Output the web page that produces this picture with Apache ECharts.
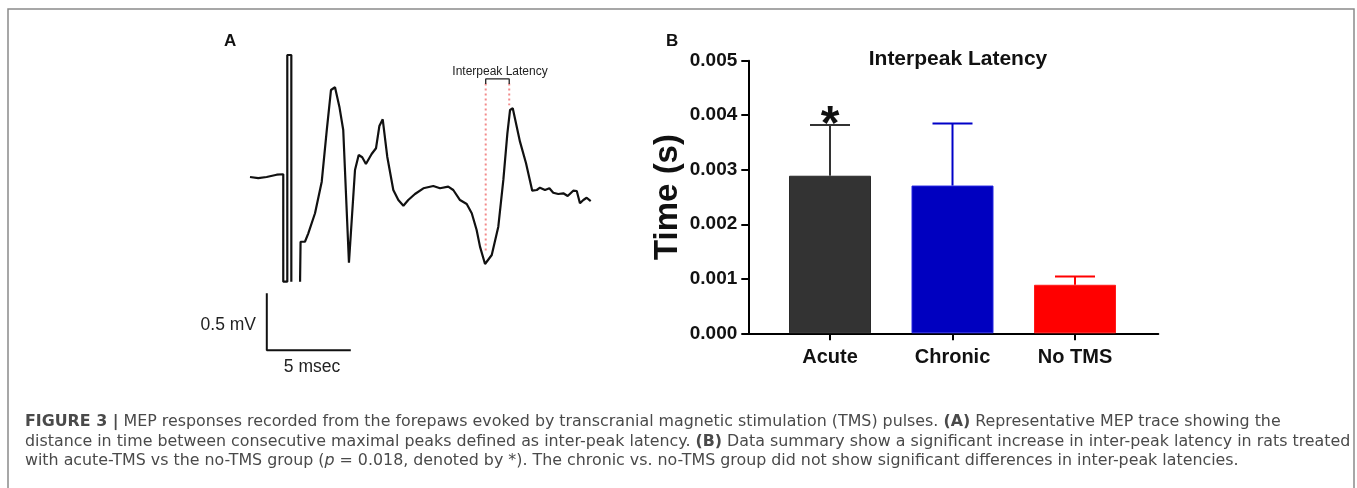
<!DOCTYPE html>
<html><head><meta charset="utf-8">
<script src="https://cdn.jsdelivr.net/npm/echarts@6/dist/echarts.min.js"></script>
<style>html,body{margin:0;padding:0;background:#fff}#c{width:1357px;height:488px}</style>
</head><body><div id="c"></div>
<script>
// ---- Panel A: representative MEP trace (time in ms, amplitude in mV) ----
const traceTime = [0,0.49,0.99,1.59,1.98,1.98,2.22,2.22,2.46,2.46,2.7,2.98,3.01,3.27,3.47,3.87,4.27,4.57,4.82,5.06,5.32,5.55,5.89,6.25,6.47,6.68,6.90,7.24,7.50,7.70,7.90,8.17,8.53,8.83,9.13,9.42,9.82,10.32,10.91,11.31,11.80,12.10,12.50,12.90,13.20,13.49,13.69,13.99,14.39,14.78,15.08,15.32,15.48,15.64,16.07,16.43,16.80,17.07,17.26,17.56,17.82,18.05,18.35,18.65,18.91,19.24,19.45,19.64,19.84,20.04,20.28];
const traceVolt = [0,-0.01,0,0.02,0.024,-0.918,-0.918,1.07,1.07,-0.918,null,-0.918,-0.568,-0.568,-0.494,-0.318,-0.041,0.412,0.763,0.787,0.617,0.412,-0.752,0.061,0.193,0.173,0.114,0.202,0.252,0.447,0.506,0.178,-0.114,-0.202,-0.252,-0.202,-0.149,-0.099,-0.079,-0.099,-0.085,-0.114,-0.202,-0.237,-0.318,-0.465,-0.611,-0.763,-0.684,-0.436,-0.026,0.383,0.588,0.603,0.310,0.120,-0.120,-0.114,-0.094,-0.114,-0.099,-0.138,-0.149,-0.143,-0.167,-0.120,-0.123,-0.231,-0.202,-0.182,-0.211];
const latencyTimes = [14.03, 15.43];          // trough and peak marked by dotted lines
const latencyDotTop = 0.82;
const latencyDotBottom = [-0.67, 0.63];
const bracketVolt = [0.816, 0.86];
const scaleBarTime = [1.0, 1.0, 6.0];          // 5 msec
const scaleBarVolt = [-1.02, -1.52, -1.52];    // 0.5 mV

// ---- Panel B: interpeak latency summary ----
const groups = ['Acute', 'Chronic', 'No TMS'];
const meanLatency = [0.00289, 0.00271, 0.00089];
const semLatency = [0.00093, 0.00114, 0.00015];
const significance = ['*', '', ''];

const barColors = ['#333333', '#0000c0', '#ff0000'];
const barBorders = ['#2a2a2a', '#2424e0', '#ff1a1a'];
const errColors = ['#333333', '#0000c8', '#ff0000'];

const FONT = '"Liberation Sans", Arial, Helvetica, sans-serif';
const CAPFONT = '"DejaVu Sans", "Liberation Sans", sans-serif';
const chart = echarts.init(document.getElementById('c'), null, {renderer: 'canvas'});

const traceData = traceTime.map((t, i) => [t, traceVolt[i] === null ? '-' : traceVolt[i]]);
const dot1 = [[latencyTimes[0], latencyDotTop], [latencyTimes[0], latencyDotBottom[0]]];
const dot2 = [[latencyTimes[1], latencyDotTop], [latencyTimes[1], latencyDotBottom[1]]];
const bracket = [[latencyTimes[0], bracketVolt[0]], [latencyTimes[0], bracketVolt[1]], [latencyTimes[1], bracketVolt[1]], [latencyTimes[1], bracketVolt[0]]];
const scaleBar = scaleBarTime.map((t, i) => [t, scaleBarVolt[i]]);

const CAPSIZE = 15.85;
const captionBase = {fontSize: CAPSIZE, fontFamily: CAPFONT, fill: '#4a4a4a'};
const rich = {
  b: {fontSize: CAPSIZE, fontFamily: CAPFONT, fontWeight: 'bold', color: '#222'},
  i: {fontSize: CAPSIZE, fontFamily: CAPFONT, fontStyle: 'italic', color: '#4a4a4a'}
};

const option = {
  animation: false,
  backgroundColor: '#fff',
  title: [
    {text: 'A', left: 219, top: 28, textStyle: {fontSize: 17, fontWeight: 'bold', fontFamily: FONT, color: '#111'}},
    {text: 'B', left: 661, top: 28, textStyle: {fontSize: 17, fontWeight: 'bold', fontFamily: FONT, color: '#111'}},
    {text: 'Interpeak Latency', left: 953, top: 44, textAlign: 'center', textStyle: {fontSize: 21, fontWeight: 'bold', fontFamily: FONT, color: '#111'}}
  ],
  grid: [
    {left: 250, top: 40.2, width: 352.8, height: 319.2},
    {left: 748.3, top: 60.7, width: 410, height: 272.6}
  ],
  xAxis: [
    {gridIndex: 0, type: 'value', min: 0, max: 21, show: false},
    {gridIndex: 1, type: 'value', min: -0.667, max: 2.68,
      axisLine: {show: true, onZero: false, lineStyle: {color: '#000', width: 2}},
      axisTick: {show: true, length: 7, lineStyle: {color: '#000', width: 2}, customValues: [0, 1, 2]},
      axisLabel: {show: true, margin: 14, customValues: [0, 1, 2], formatter: v => groups[Math.round(v)],
        fontSize: 20, fontWeight: 'bold', fontFamily: FONT, color: '#111'},
      splitLine: {show: false}}
  ],
  yAxis: [
    {gridIndex: 0, type: 'value', min: -1.6, max: 1.2, show: false},
    {gridIndex: 1, type: 'value', min: 0, max: 0.005, interval: 0.001,
      name: 'Time (s)', nameLocation: 'middle', nameGap: 64, nameRotate: 90,
      nameTextStyle: {fontSize: 33, fontWeight: 'bold', fontFamily: FONT, color: '#111'},
      axisLine: {show: true, onZero: false, lineStyle: {color: '#000', width: 2}},
      axisTick: {show: true, length: 7, lineStyle: {color: '#000', width: 2}},
      axisLabel: {margin: 11, formatter: v => v.toFixed(3), fontSize: 19, fontWeight: 'bold', fontFamily: FONT, color: '#111'},
      splitLine: {show: false}}
  ],
  series: [
    {type: 'line', xAxisIndex: 0, yAxisIndex: 0, data: traceData, symbol: 'none', connectNulls: false,
      lineStyle: {color: '#111', width: 2.2}, z: 3},
    {type: 'line', xAxisIndex: 0, yAxisIndex: 0, data: dot1, symbol: 'none',
      lineStyle: {color: '#f28a8a', width: 2, type: [2, 3]}, z: 2},
    {type: 'line', xAxisIndex: 0, yAxisIndex: 0, data: dot2, symbol: 'none',
      lineStyle: {color: '#f28a8a', width: 2, type: [2, 3]}, z: 2},
    {type: 'line', xAxisIndex: 0, yAxisIndex: 0, data: bracket, symbol: 'none',
      lineStyle: {color: '#222', width: 1.3}},
    {type: 'line', xAxisIndex: 0, yAxisIndex: 0, data: scaleBar, symbol: 'none',
      lineStyle: {color: '#111', width: 2}},
    {type: 'bar', xAxisIndex: 1, yAxisIndex: 1, barWidth: 82,
      data: meanLatency.map((m, i) => ({value: [i, m], itemStyle: {color: barColors[i], borderColor: barBorders[i], borderWidth: 1}}))},
    {type: 'custom', xAxisIndex: 1, yAxisIndex: 1, z: 5,
      data: meanLatency.map((m, i) => [i, m, semLatency[i]]),
      encode: {x: 0, y: 1},
      renderItem: function (params, api) {
        const i = params.dataIndex;
        const x = api.value(0), m = api.value(1), e = api.value(2);
        const base = api.coord([x, m]);
        const top = api.coord([x, m + e]);
        const c = errColors[i];
        const children = [
          {type: 'line', shape: {x1: base[0], y1: base[1], x2: top[0], y2: top[1]}, style: {stroke: c, lineWidth: 2}},
          {type: 'line', shape: {x1: top[0] - 20, y1: top[1], x2: top[0] + 20, y2: top[1]}, style: {stroke: c, lineWidth: 2}}
        ];
        if (significance[i]) {
          children.push({type: 'text', x: top[0], y: top[1] + 1, style: {text: significance[i], fontSize: 48, fontWeight: 'bold', fontFamily: FONT, fill: '#111', align: 'center', verticalAlign: 'middle'}});
        }
        return {type: 'group', children: children};
      }}
  ],
  graphic: [
    {type: 'rect', shape: {x: 8, y: 9, width: 1346, height: 520}, style: {fill: 'none', stroke: '#8a8a8a', lineWidth: 1.5}, silent: true},
    {type: 'text', x: 500, y: 71.7, style: {text: 'Interpeak Latency', fontSize: 12, fontFamily: FONT, fill: '#222', align: 'center', verticalAlign: 'middle'}},
    {type: 'text', x: 256, y: 325, style: {text: '0.5 mV', fontSize: 17.5, fontFamily: FONT, fill: '#222', align: 'right', verticalAlign: 'middle'}},
    {type: 'text', x: 312, y: 367, style: {text: '5 msec', fontSize: 17.5, fontFamily: FONT, fill: '#222', align: 'center', verticalAlign: 'middle'}},
    {type: 'text', x: 25, y: 421.7, style: Object.assign({text: '{b|FIGURE 3 |} MEP responses recorded from the forepaws evoked by transcranial magnetic stimulation (TMS) pulses. {b|(A)} Representative MEP trace showing the', rich: rich, verticalAlign: 'middle'}, captionBase)},
    {type: 'text', x: 25, y: 441.7, style: Object.assign({text: 'distance in time between consecutive maximal peaks defined as inter-peak latency. {b|(B)} Data summary show a significant increase in inter-peak latency in rats treated', rich: rich, verticalAlign: 'middle'}, captionBase)},
    {type: 'text', x: 25, y: 461.3, style: Object.assign({text: 'with acute-TMS vs the no-TMS group ({i|p} = 0.018, denoted by *). The chronic vs. no-TMS group did not show significant differences in inter-peak latencies.', rich: rich, verticalAlign: 'middle'}, captionBase)}
  ]
};
chart.setOption(option);
</script>
</body></html>
